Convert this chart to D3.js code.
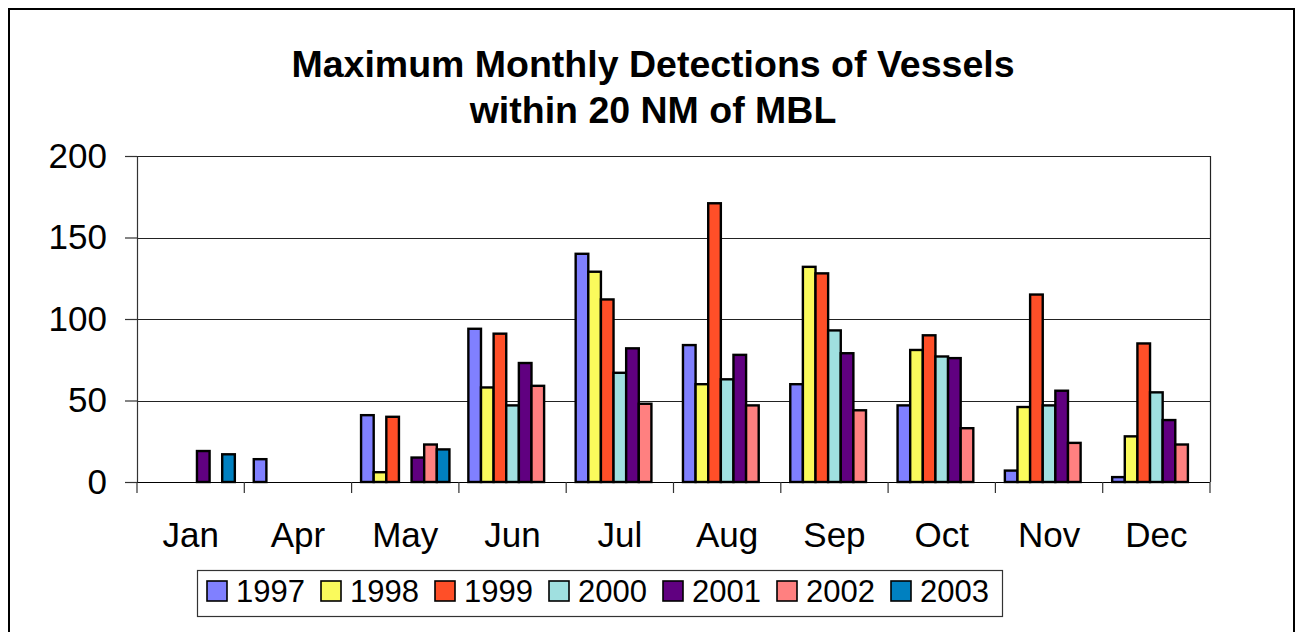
<!DOCTYPE html>
<html lang="en">
<head>
  <meta charset="UTF-8" />
  <title>Maximum Monthly Detections of Vessels within 20 NM of MBL</title>
  <script src="https://d3js.org/d3.v7.min.js"></script>
  <style>
    body {
      margin: 0;
      background: #fff;
      font-family: "Liberation Sans", Arial, sans-serif;
    }
    svg { display: block; }
    .tick-label { font-size: 35px; fill: #000; }
    .legend-label { font-size: 31px; fill: #000; }
    .title { font-size: 37.5px; font-weight: bold; fill: #000; }
  </style>
</head>
<body>
  <svg id="chart"></svg>

  <script>
    // data
    const months = ["Jan", "Apr", "May", "Jun", "Jul", "Aug", "Sep", "Oct", "Nov", "Dec"];
    const years  = ["1997", "1998", "1999", "2000", "2001", "2002", "2003"];

    const v1997 = [null, 14, 41, 94, 140, 84, 60, 47, 7, 3];
    const v1998 = [null, null, 6, 58, 129, 60, 132, 81, 46, 28];
    const v1999 = [null, null, 40, 91, 112, 171, 128, 90, 115, 85];
    const v2000 = [null, null, null, 47, 67, 63, 93, 77, 47, 55];
    const v2001 = [19, null, 15, 73, 82, 78, 79, 76, 56, 38];
    const v2002 = [null, null, 23, 59, 48, 47, 44, 33, 24, 23];
    const v2003 = [17, null, 20, null, null, null, null, null, null, null];

    const yTicks = [0, 50, 100, 150, 200];
    const colors = ["#8080ff", "#fafa5c", "#ff4f28", "#a0e0e0", "#600080", "#ff8080", "#0080c0"];

    const seriesValues = [v1997, v1998, v1999, v2000, v2001, v2002, v2003];

    const W = 1295, H = 632;
    const plot = { left: 137, top: 156, right: 1210, bottom: 482 };

    const svg = d3.select("#chart").attr("width", W).attr("height", H);

    // outer chart border
    svg.append("rect")
      .attr("x", 9).attr("y", 9)
      .attr("width", 1285).attr("height", 640)
      .attr("fill", "#fff")
      .attr("stroke", "#000")
      .attr("stroke-width", 2);

    const x = d3.scaleBand().domain(months).range([plot.left, plot.right]).padding(0);
    const xYear = d3.scaleBand().domain(years).range([0, x.bandwidth()])
                    .paddingInner(0).paddingOuter(0.75);
    const y = d3.scaleLinear().domain([0, 200]).range([plot.bottom, plot.top]);

    // title
    const title = svg.append("text")
      .attr("class", "title")
      .attr("text-anchor", "middle")
      .attr("x", 653);
    title.append("tspan").attr("x", 653).attr("y", 77).text("Maximum Monthly Detections of Vessels");
    title.append("tspan").attr("x", 653).attr("y", 123).text("within 20 NM of MBL");

    // gridlines
    svg.append("g")
      .selectAll("line")
      .data(yTicks.filter(d => d > 0))
      .enter()
      .append("line")
        .attr("x1", plot.left).attr("x2", plot.right)
        .attr("y1", d => Math.round(y(d)) + 0.5)
        .attr("y2", d => Math.round(y(d)) + 0.5)
        .attr("stroke", "#222")
        .attr("stroke-width", 1.2);

    // right edge of plot area
    svg.append("line")
      .attr("x1", plot.right + 0.5).attr("x2", plot.right + 0.5)
      .attr("y1", plot.top).attr("y2", plot.bottom)
      .attr("stroke", "#222").attr("stroke-width", 1.2);

    // bars
    const rows = [];
    months.forEach((m, i) => {
      years.forEach((yr, j) => {
        const v = seriesValues[j][i];
        if (v != null) rows.push({ month: m, year: yr, value: v, color: colors[j] });
      });
    });

    svg.append("g")
      .selectAll("rect")
      .data(rows)
      .enter()
      .append("rect")
        .attr("x", d => x(d.month) + xYear(d.year))
        .attr("y", d => y(d.value))
        .attr("width", xYear.bandwidth())
        .attr("height", d => y(0) - y(d.value))
        .attr("fill", d => d.color)
        .attr("stroke", "#000")
        .attr("stroke-width", 2.4);

    // y axis
    const yAxis = svg.append("g")
      .attr("transform", `translate(${plot.left},0)`)
      .call(d3.axisLeft(y).tickValues(yTicks).tickSize(12).tickSizeOuter(0).tickPadding(18));
    yAxis.select(".domain").attr("stroke", "#333").attr("stroke-width", 1.2);
    yAxis.selectAll(".tick line").attr("stroke", "#333").attr("stroke-width", 1.2);
    yAxis.selectAll(".tick text")
      .attr("class", "tick-label")
      .attr("font-family", null)
      .attr("font-size", null)
      .attr("fill", "#000");

    // x axis: ticks between categories, labels centered
    const xAxis = svg.append("g")
      .attr("transform", `translate(0,${plot.bottom})`);
    xAxis.append("line")
      .attr("x1", plot.left).attr("x2", plot.right)
      .attr("y1", 0.5).attr("y2", 0.5)
      .attr("stroke", "#000").attr("stroke-width", 1.2);
    xAxis.selectAll(".cat-tick")
      .data(months.map(m => x(m)).concat([plot.right]))
      .enter()
      .append("line")
        .attr("class", "cat-tick")
        .attr("x1", d => d).attr("x2", d => d)
        .attr("y1", 0).attr("y2", 11)
        .attr("stroke", "#333").attr("stroke-width", 1.2);
    xAxis.selectAll(".cat-label")
      .data(months)
      .enter()
      .append("text")
        .attr("class", "tick-label")
        .attr("text-anchor", "middle")
        .attr("x", d => x(d) + x.bandwidth() / 2)
        .attr("y", 65)
        .text(d => d);

    // legend
    const legend = svg.append("g").attr("transform", "translate(197,570)");
    legend.append("rect")
      .attr("x", 0.5).attr("y", 0.5)
      .attr("width", 805).attr("height", 46)
      .attr("fill", "#fff")
      .attr("stroke", "#333").attr("stroke-width", 1.2);

    const items = legend.selectAll(".item")
      .data(years)
      .enter()
      .append("g")
        .attr("class", "item")
        .attr("transform", (d, i) => `translate(${10 + i * 114},0)`);
    items.append("rect")
      .attr("x", 0).attr("y", 11)
      .attr("width", 20).attr("height", 20)
      .attr("fill", (d, i) => colors[i])
      .attr("stroke", "#000").attr("stroke-width", 1.6);
    items.append("text")
      .attr("class", "legend-label")
      .attr("x", 29).attr("y", 32)
      .text(d => d);
  </script>
</body>
</html>
